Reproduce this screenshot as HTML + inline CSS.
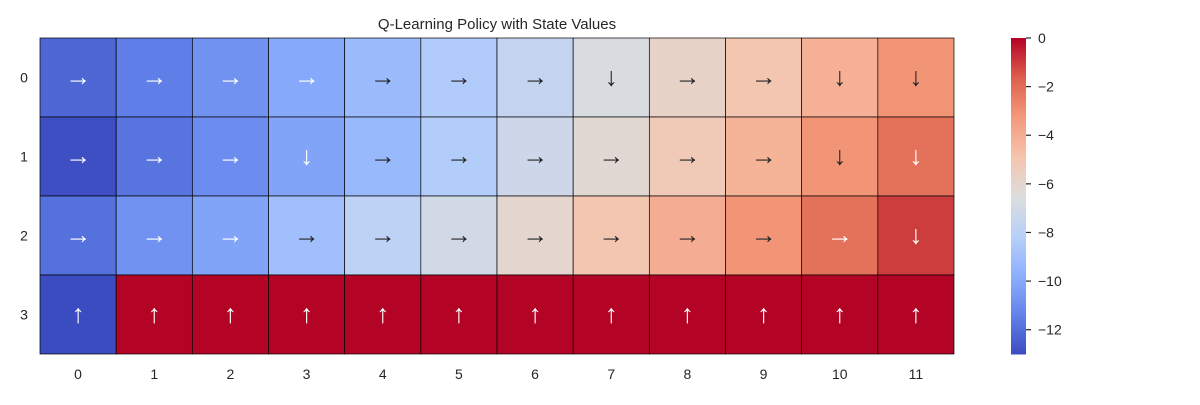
<!DOCTYPE html>
<html><head><meta charset="utf-8"><style>
body{margin:0;background:#fff;width:1200px;height:400px;overflow:hidden}
svg text{font-family:"Liberation Sans",sans-serif;fill:#262626}
</style></head><body>
<svg id="chart" width="1200" height="400" viewBox="0 0 1200 400">
<text x="497" y="29" font-size="15" text-anchor="middle">Q-Learning Policy with State Values</text>
<g id="cells"></g><g id="ticks"></g><g id="cbar"></g>
</svg>
<script>
const rowLabels=["0","1","2","3"];
const colLabels=["0","1","2","3","4","5","6","7","8","9","10","11"];
const values=[
[-12.2,-11.5,-10.8,-10.0,-9.2,-8.4,-7.6,-6.7,-5.8,-5.0,-4.1,-3.1],
[-12.9,-11.8,-11.0,-10.2,-9.3,-8.3,-7.2,-6.2,-5.2,-4.2,-3.1,-2.1],
[-11.9,-10.8,-10.2,-9.0,-7.9,-7.0,-6.0,-5.0,-4.0,-3.1,-2.1,-1.0],
[-13.0,0,0,0,0,0,0,0,0,0,0,0]];
const arrows=[
"→→→→→→→↓→→↓↓",
"→→→↓→→→→→→↓↓",
"→→→→→→→→→→→↓",
"↑↑↑↑↑↑↑↑↑↑↑↑"];
const cbTicks=[0,-2,-4,-6,-8,-10,-12];
const vmin=-13,vmax=0;
const X0=40,X1=954,Y0=38,Y1=354;
const cw=(X1-X0)/colLabels.length, rh=(Y1-Y0)/rowLabels.length;
const stops=[[59,76,192],[98,130,234],[141,176,254],[184,208,249],[221,221,221],[245,196,173],[244,154,123],[222,96,77],[180,4,38]];
function cmap(v){let t=Math.max(0,Math.min(1,(v-vmin)/(vmax-vmin)))*8;let i=Math.min(7,Math.floor(t)),f=t-i;
 return stops[i].map((c,k)=>Math.round(c+(stops[i+1][k]-c)*f));}
function lum(c){const l=c.map(x=>{x/=255;return x<=0.03928?x/12.92:Math.pow((x+0.055)/1.055,2.4)});return 0.2126*l[0]+0.7152*l[1]+0.0722*l[2];}
const NS="http://www.w3.org/2000/svg";
function mk(tag,attrs,parent){const e=document.createElementNS(NS,tag);for(const k in attrs)e.setAttribute(k,attrs[k]);parent.appendChild(e);return e;}
const cells=document.getElementById('cells'),ticks=document.getElementById('ticks'),cb=document.getElementById('cbar');
values.forEach((row,r)=>row.forEach((v,c)=>{
 const col=cmap(v);
 const rect=mk('rect',{x:X0+c*cw,y:Y0+r*rh,width:cw,height:rh,fill:`rgb(${col})`,stroke:'#000','stroke-width':0.7},cells);
 
 
 const t=mk('text',{x:X0+(c+0.5)*cw,y:Y0+(r+0.5)*rh+8,'font-size':26,'text-anchor':'middle',style:'font-family:"Liberation Sans","DejaVu Sans",sans-serif;fill:'+(lum(col)>0.408?'#262626':'#ffffff')},cells);
 t.textContent=arrows[r][c];
 
 
}));
colLabels.forEach((l,c)=>{const t=mk('text',{x:X0+(c+0.5)*cw,y:379,'font-size':14,'text-anchor':'middle'},ticks);t.textContent=l;
 
 });
rowLabels.forEach((l,r)=>{const t=mk('text',{x:24,y:Y0+(r+0.5)*rh+5,'font-size':14,'text-anchor':'middle'},ticks);t.textContent=l;
 
 });
const CX=1011,CW=15;
function cy(v){return Y1-(v-vmin)/(vmax-vmin)*(Y1-Y0);}
for(let i=0;i<200;i++){const v=vmin+(i+0.5)*(vmax-vmin)/200;const r=mk('rect',{x:CX,y:cy(vmin+(i+1)*(vmax-vmin)/200),width:CW,height:(Y1-Y0)/200+0.5,fill:`rgb(${cmap(v)})`},cb);
 
 }
cbTicks.forEach(v=>{const ln=mk('line',{x1:CX+CW,x2:CX+CW+5,y1:cy(v),y2:cy(v),stroke:'#262626','stroke-width':1.2},cb);
 
 
 const t=mk('text',{x:CX+CW+12,y:cy(v)+5,'font-size':14},cb);t.textContent=v<0?'\u2212'+(-v):'0';
 
 });
</script>
</body></html>
